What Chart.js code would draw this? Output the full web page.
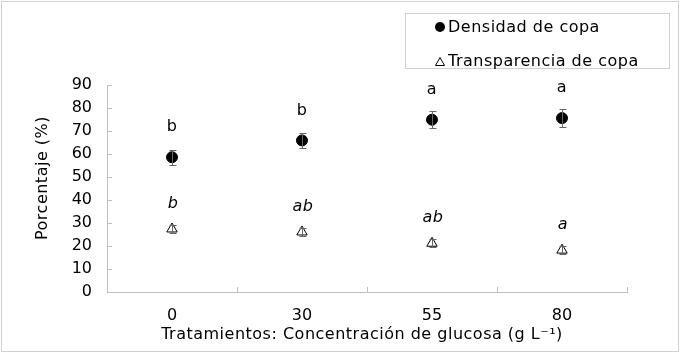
<!DOCTYPE html>
<html>
<head>
<meta charset="utf-8">
<script src="https://cdn.jsdelivr.net/npm/chart.js@4/dist/chart.umd.min.js"></script>
<style>
html, body { margin: 0; padding: 0; background: #fff; }
#wrap { width: 683px; height: 359px; }
</style>
</head>
<body>
<div id="wrap"><canvas id="grafico"></canvas></div>
<script>
// datos
var tratamientos = ["0", "30", "55", "80"];
var densidad = [58.6, 65.9, 74.9, 75.6];
var densidadErr = [3.2, 3.3, 3.8, 4.0];
var transparencia = [27.4, 26.1, 21.2, 18.2];
var transparenciaErr = [1.7, 1.6, 1.8, 1.7];
var letrasDensidad = ["b", "b", "a", "a"];
var letrasTransparencia = ["b", "ab", "ab", "a"];
var yTicks = [0, 10, 20, 30, 40, 50, 60, 70, 80, 90];

var fuente = "'DejaVu Sans', Verdana, sans-serif";
var gris = "#bfbfbf";

// barras de error, letras, ticks, leyenda y titulos
var extras = {
    id: "extras",
    beforeDraw: function(chart){
        var c = chart.ctx;
        c.save();
        c.fillStyle = "#fff";
        c.fillRect(0, 0, chart.width, chart.height);
        c.strokeStyle = "#d0d0d0";
        c.lineWidth = 1;
        c.strokeRect(1.5, 1.5, 677, 350);
        c.restore();
    },
    afterDatasetsDraw: function(chart){
        var c = chart.ctx;
        var xs = chart.scales.x, ys = chart.scales.y;
        var a = chart.chartArea;
        c.save();
        // ticks hacia dentro
        c.strokeStyle = gris;
        c.lineWidth = 1;
        var half = (xs.getPixelForValue(1) - xs.getPixelForValue(0)) / 2;
        for (var i = 0; i <= tratamientos.length; i++){
            var px = Math.round(xs.getPixelForValue(0) - half + i * 2 * half) + 0.5;
            c.beginPath(); c.moveTo(px, a.bottom); c.lineTo(px, a.bottom - 5); c.stroke();
        }
        for (var j = 0; j < yTicks.length; j++){
            var py = Math.round(ys.getPixelForValue(yTicks[j])) + 0.5;
            c.beginPath(); c.moveTo(a.left, py); c.lineTo(a.left + 5, py); c.stroke();
        }
        // error bars
        c.strokeStyle = "#666";
        var series = [[densidad, densidadErr], [transparencia, transparenciaErr]];
        series.forEach(function(s){
            for (var k = 0; k < s[0].length; k++){
                var x = Math.round(xs.getPixelForValue(k)) + 0.5;
                var y1 = Math.round(ys.getPixelForValue(s[0][k] + s[1][k])) + 0.5;
                var y2 = Math.round(ys.getPixelForValue(s[0][k] - s[1][k])) + 0.5;
                c.beginPath();
                c.moveTo(x, y1); c.lineTo(x, y2);
                c.moveTo(x - 3, y1); c.lineTo(x + 4, y1);
                c.moveTo(x - 3, y2); c.lineTo(x + 4, y2);
                c.stroke();
            }
        });
        // letras
        c.fillStyle = "#000";
        c.textAlign = "center";
        c.textBaseline = "middle";
        c.letterSpacing = "0.5px";
        for (var k = 0; k < tratamientos.length; k++){
            var x = xs.getPixelForValue(k);
            c.font = "16px " + fuente;
            c.fillText(letrasDensidad[k], x, ys.getPixelForValue(densidad[k]) - 30);
            c.font = "italic 16px " + fuente;
            c.fillText(letrasTransparencia[k], x + 1, ys.getPixelForValue(transparencia[k]) - 25);
        }
        // leyenda
        c.strokeStyle = "#d0d0d0";
        c.strokeRect(405.5, 13.5, 264, 55);
        c.fillStyle = "#000";
        c.beginPath(); c.arc(440, 27, 5, 0, Math.PI * 2); c.fill();
        c.strokeStyle = "#000";
        c.beginPath(); c.moveTo(440, 57.5); c.lineTo(444.5, 65.5); c.lineTo(435.5, 65.5); c.closePath(); c.stroke();
        c.font = "16px " + fuente;
        c.textAlign = "left";
        c.fillText("Densidad de copa", 448, 28);
        c.fillText("Transparencia de copa", 448, 62);
        // titulos de ejes
        c.textAlign = "center";
        c.fillText("Tratamientos: Concentración de glucosa (g L⁻¹)", 362, 335);
        c.translate(43, 178);
        c.rotate(-Math.PI / 2);
        c.fillText("Porcentaje (%)", 0, 0);
        c.restore();
    }
};

var ctx = document.getElementById("grafico");
var chart = new Chart(ctx, {
    type: "line",
    data: {
        labels: tratamientos,
        datasets: [{
            label: "Densidad de copa",
            data: densidad,
            showLine: false,
            pointStyle: "circle",
            pointRadius: 5.5,
            backgroundColor: "#000",
            borderColor: "#000",
            borderWidth: 1
        }, {
            label: "Transparencia de copa",
            data: transparencia,
            showLine: false,
            pointStyle: "triangle",
            pointRadius: 6,
            backgroundColor: "#fff",
            borderColor: "#000",
            borderWidth: 1
        }]
    },
    options: {
        responsive: true,
        maintainAspectRatio: false,
        animation: false,
        layout: { padding: { left: 20, right: 56, top: 85, bottom: 0 } },
        plugins: { legend: { display: false }, tooltip: { enabled: false } },
        scales: {
            x: {
                type: "category",
                offset: true,
                grid: { display: false, drawTicks: false },
                border: { display: true, color: gris, width: 1 },
                ticks: { color: "#000", padding: 14, font: { family: fuente, size: 16 } },
                afterFit: function(s){ s.height = 67; }
            },
            y: {
                min: 0,
                max: 90,
                afterBuildTicks: function(s){ s.ticks = yTicks.map(function(v){ return { value: v }; }); },
                grid: { display: false, drawTicks: false },
                border: { display: true, color: gris, width: 1 },
                ticks: { color: "#000", padding: 15, font: { family: fuente, size: 16 } },
                afterFit: function(s){ s.width = 87; }
            }
        }
    },
    plugins: [extras]
});
</script>
</body>
</html>
